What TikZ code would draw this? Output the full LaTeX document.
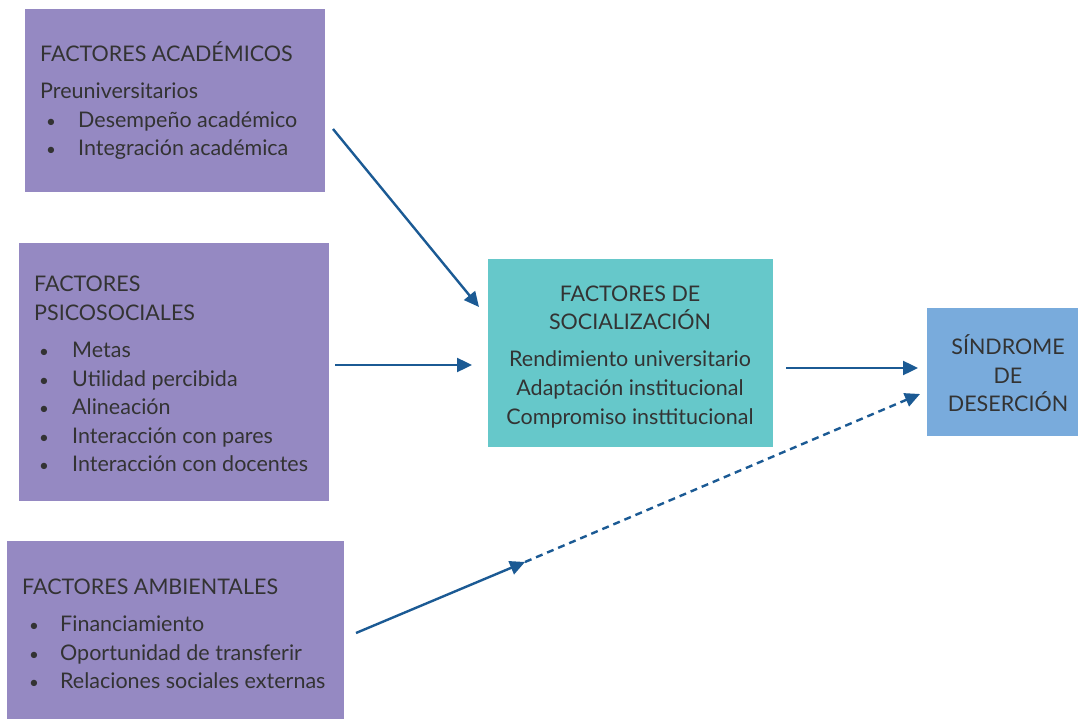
\documentclass[tikz,border=0pt]{standalone}
\usepackage{fontspec}
\setmainfont{Lato}
\usetikzlibrary{arrows.meta}
\definecolor{purp}{HTML}{9589C2}
\definecolor{teal}{HTML}{66C8CA}
\definecolor{sky}{HTML}{79ABDC}
\definecolor{arr}{HTML}{1B5A94}
\definecolor{txt}{HTML}{333333}
\tikzset{
  lbl/.style={anchor=base west, inner sep=0, text=txt, font=\fontsize{21.5}{26}\selectfont},
  blt/.style={anchor=base west, inner sep=0, text=txt, font=\fontsize{17}{20}\selectfont},
  clbl/.style={anchor=base, inner sep=0, text=txt, font=\fontsize{21.5}{26}\selectfont},
  conn/.style={draw=arr, line width=2.4pt, -{Triangle[length=15pt,width=14pt]}},
  dconn/.style={draw=arr, line width=2.4pt, dash pattern=on 7pt off 5pt, -{Triangle[length=15pt,width=14pt]}}
}
\begin{document}
\begin{tikzpicture}[x=1pt,y=-1pt]
\useasboundingbox (0,0) rectangle (1078,719);
% boxes
\fill[purp] (25,9) rectangle (325,192);
\fill[purp] (19,243) rectangle (329,501);
\fill[purp] (7,541) rectangle (344,719);
\fill[teal] (488,259) rectangle (773,447);
\fill[sky] (927,308) rectangle (1078,436);
% academic
\node[lbl] (a0) at (40,62) {FACTORES ACADÉMICOS};
\node[lbl] (a1) at (40,99) {Preuniversitarios};
\node[blt] (ab1) at (46,128) {•};
\node[lbl] (a2) at (78,128) {Desempeño académico};
\node[blt] (ab2) at (46,156) {•};
\node[lbl] (a3) at (78,156) {Integración académica};
% psicosocial
\node[lbl] (p0) at (34,291) {FACTORES};
\node[lbl] (p1) at (34,320) {PSICOSOCIALES};
\node[blt] (pb1) at (39,357) {•};
\node[lbl] (p2) at (72,357) {Metas};
\node[blt] (pb2) at (39,386) {•};
\node[lbl] (p3) at (72,386) {Utilidad percibida};
\node[blt] (pb3) at (39,414) {•};
\node[lbl] (p4) at (72,414) {Alineación};
\node[blt] (pb4) at (39,443) {•};
\node[lbl] (p5) at (72,443) {Interacción con pares};
\node[blt] (pb5) at (39,471) {•};
\node[lbl] (p6) at (72,471) {Interacción con docentes};
% ambientales
\node[lbl] (e0) at (22,594) {FACTORES AMBIENTALES};
\node[blt] (eb1) at (29,631) {•};
\node[lbl] (e1) at (60,631) {Financiamiento};
\node[blt] (eb2) at (29,660) {•};
\node[lbl] (e2) at (60,660) {Oportunidad de transferir};
\node[blt] (eb3) at (29,688) {•};
\node[lbl] (e3) at (60,688) {Relaciones sociales externas};
% socializacion
\node[clbl] (s0) at (630,301) {FACTORES DE};
\node[clbl] (s1) at (630,329) {SOCIALIZACIÓN};
\node[clbl] (s2) at (630,366) {Rendimiento universitario};
\node[clbl] (s3) at (630,395) {Adaptación institucional};
\node[clbl] (s4) at (630,424) {Compromiso insttitucional};
% sindrome
\node[clbl] (d0) at (1008,354) {SÍNDROME};
\node[clbl] (d1) at (1008,383) {DE};
\node[clbl] (d2) at (1008,411) {DESERCIÓN};
% connector end points
\coordinate (c1a) at (333,129);
\coordinate (c1b) at (479,307);
\coordinate (c2a) at (335,365);
\coordinate (c2b) at (472,365);
\coordinate (c3a) at (786,368);
\coordinate (c3b) at (918,368);
\coordinate (c4a) at (356,633);
\coordinate (c4m) at (525,562);
\coordinate (c4b) at (920,394);
\draw[conn] (c1a) -- (c1b);
\draw[conn] (c2a) -- (c2b);
\draw[conn] (c3a) -- (c3b);
\draw[conn] (c4a) -- (c4m);
\draw[dconn] (c4m) -- (c4b);
\end{tikzpicture}
\end{document}
